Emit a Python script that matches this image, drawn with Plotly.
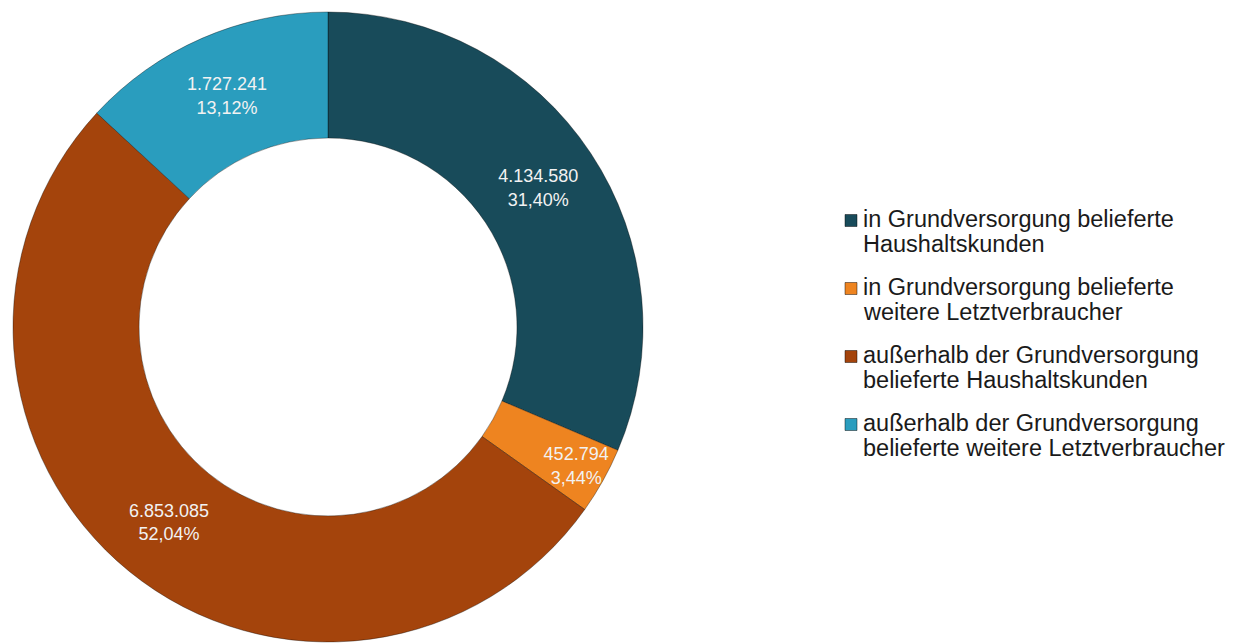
import plotly.graph_objects as go

categories = [
    "in Grundversorgung belieferte Haushaltskunden",
    "in Grundversorgung belieferte weitere Letztverbraucher",
    "außerhalb der Grundversorgung belieferte Haushaltskunden",
    "außerhalb der Grundversorgung belieferte weitere Letztverbraucher",
]
legend_lines = [
    ["in Grundversorgung belieferte", "Haushaltskunden"],
    ["in Grundversorgung belieferte", "weitere Letztverbraucher"],
    ["außerhalb der Grundversorgung", "belieferte Haushaltskunden"],
    ["außerhalb der Grundversorgung", "belieferte weitere Letztverbraucher"],
]
values = [4134580, 452794, 6853085, 1727241]
colors = ["#184B5A", "#EE8420", "#A4440C", "#2A9DBE"]

W, H = 1241, 644
OFF = 8  # page body margin offset
cx, cy, R = 328 - OFF, 327 - OFF, 315

fig = go.Figure(go.Pie(
    labels=categories,
    values=values,
    sort=False,
    direction="clockwise",
    rotation=0,
    hole=0.6,
    marker=dict(colors=colors, line=dict(color="rgba(0,0,0,0.35)", width=1)),
    texttemplate="%{value:,.0f}<br>%{percent:.2%}",
    textposition="inside",
    insidetextorientation="horizontal",
    textfont=dict(family="Liberation Sans, Arial", size=18, color="#F2F2F2"),
    domain=dict(x=[(cx - R) / W, (cx + R) / W], y=[1 - (cy + R) / H, 1 - (cy - R) / H]),
    showlegend=False,
    hoverinfo="label+value+percent",
))

# legend drawn as text + swatches
font_size = 23.5
first_baseline = 227
line_step = 25
item_step = 68
text_x = 862 - OFF
annotations = []
shapes = []
for i, (lines, col) in enumerate(zip(legend_lines, colors)):
    for j, line in enumerate(lines):
        baseline = first_baseline + i * item_step + j * line_step
        ymid = baseline - 0.36 * font_size - OFF
        annotations.append(dict(
            xref="paper", yref="paper",
            x=text_x / W, y=1 - ymid / H,
            xanchor="left", yanchor="middle",
            text=line, showarrow=False,
            font=dict(family="Liberation Sans, Arial", size=font_size, color="#1A1A1A"),
            borderpad=0,
        ))
    sq_c = first_baseline + i * item_step - 6.5 - OFF
    shapes.append(dict(
        type="rect", xref="paper", yref="paper",
        x0=(845 - OFF) / W, x1=(857 - OFF) / W,
        y0=1 - (sq_c + 6) / H, y1=1 - (sq_c - 6) / H,
        fillcolor=col, line=dict(color="rgba(0,0,0,0.45)", width=1),
    ))

fig.update_layout(
    width=W, height=H,
    margin=dict(l=0, r=0, t=0, b=0),
    paper_bgcolor="white",
    plot_bgcolor="white",
    separators=",.",
    uniformtext=dict(minsize=18, mode="show"),
    annotations=annotations,
    shapes=shapes,
    showlegend=False,
)

fig.write_html("out.html")
